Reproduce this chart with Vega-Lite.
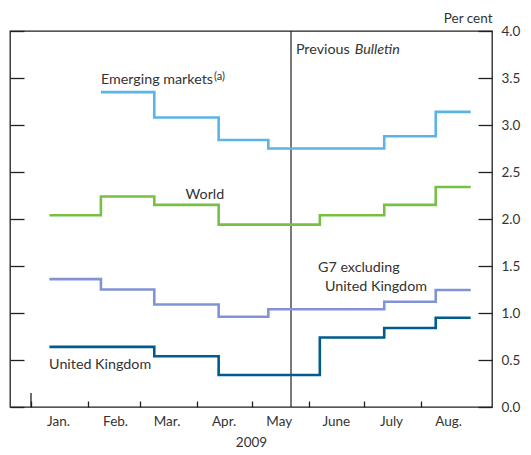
{
  "$schema": "https://vega.github.io/schema/vega-lite/v6.json",
  "width": 482,
  "height": 376,
  "autosize": "none",
  "padding": {"left": 10, "top": 31, "right": 39, "bottom": 48},
  "background": "white",
  "config": {
    "font": "Lato",
    "view": {"stroke": "#231f20", "strokeWidth": 1.3},
    "axis": {"labelFont": "Lato", "titleFont": "Lato", "labelFontSize": 13.5, "titleFontSize": 13.5, "labelColor": "#333333", "titleColor": "#333333", "titleFontWeight": "normal", "tickColor": "#231f20", "tickWidth": 1.3, "grid": false, "domain": false}
  },
  "datasets": {
    "lines": [
      {"series": "Emerging markets", "date": "2009-02-08", "value": 3.35},
      {"series": "Emerging markets", "date": "2009-03-09", "value": 3.08},
      {"series": "Emerging markets", "date": "2009-04-13", "value": 2.84},
      {"series": "Emerging markets", "date": "2009-05-10", "value": 2.75},
      {"series": "Emerging markets", "date": "2009-07-12", "value": 2.88},
      {"series": "Emerging markets", "date": "2009-08-09", "value": 3.14},
      {"series": "Emerging markets", "date": "2009-08-28", "value": 3.14},
      {"series": "World", "date": "2009-01-11", "value": 2.04},
      {"series": "World", "date": "2009-02-08", "value": 2.24},
      {"series": "World", "date": "2009-03-09", "value": 2.15},
      {"series": "World", "date": "2009-04-13", "value": 1.94},
      {"series": "World", "date": "2009-06-07", "value": 2.04},
      {"series": "World", "date": "2009-07-12", "value": 2.15},
      {"series": "World", "date": "2009-08-09", "value": 2.34},
      {"series": "World", "date": "2009-08-28", "value": 2.34},
      {"series": "G7 excluding United Kingdom", "date": "2009-01-11", "value": 1.36},
      {"series": "G7 excluding United Kingdom", "date": "2009-02-08", "value": 1.25},
      {"series": "G7 excluding United Kingdom", "date": "2009-03-09", "value": 1.09},
      {"series": "G7 excluding United Kingdom", "date": "2009-04-13", "value": 0.96},
      {"series": "G7 excluding United Kingdom", "date": "2009-05-10", "value": 1.04},
      {"series": "G7 excluding United Kingdom", "date": "2009-07-12", "value": 1.12},
      {"series": "G7 excluding United Kingdom", "date": "2009-08-09", "value": 1.245},
      {"series": "G7 excluding United Kingdom", "date": "2009-08-28", "value": 1.245},
      {"series": "United Kingdom", "date": "2009-01-11", "value": 0.64},
      {"series": "United Kingdom", "date": "2009-03-09", "value": 0.54},
      {"series": "United Kingdom", "date": "2009-04-13", "value": 0.34},
      {"series": "United Kingdom", "date": "2009-06-07", "value": 0.74},
      {"series": "United Kingdom", "date": "2009-07-12", "value": 0.84},
      {"series": "United Kingdom", "date": "2009-08-09", "value": 0.95},
      {"series": "United Kingdom", "date": "2009-08-28", "value": 0.95}
    ],
    "labels": [
      {"text": "Emerging markets", "date": "2009-02-08", "value": 3.436},
      {"text": "World", "date": "2009-03-26", "value": 2.213},
      {"text": "G7 excluding", "date": "2009-06-06", "value": 1.436},
      {"text": "United Kingdom", "date": "2009-06-09T18:00:00Z", "value": 1.234},
      {"text": "United Kingdom", "date": "2009-01-10T20:00:00Z", "value": 0.404},
      {"text": "Previous", "date": "2009-05-25", "value": 3.755}
    ],
    "italic": [
      {"text": "Bulletin", "date": "2009-06-26T00:00:00Z", "value": 3.755}
    ],
    "sup": [
      {"text": "(a)", "date": "2009-04-10T12:00:00Z", "value": 3.48}
    ],
    "events": [
      {"event": "Previous Bulletin", "date": "2009-05-22T08:00:00Z"}
    ],
    "year": [
      {"date": "2009-01-01"}
    ]
  },
  "layer": [
    {
      "data": {"name": "events"},
      "mark": {"type": "rule", "color": "#231f20", "strokeWidth": 1.2},
      "encoding": {
        "x": {"field": "date", "type": "temporal", "scale": {"type": "utc", "domain": [{"year": 2008, "month": 12, "date": 20, "hours": 14, "utc": true}, {"year": 2009, "month": 9, "date": 8, "hours": 14, "utc": true}]},
          "axis": {"orient": "bottom", "values": [
            {"year": 2009, "month": 1, "date": 1, "utc": true},
            {"year": 2009, "month": 2, "date": 1, "utc": true},
            {"year": 2009, "month": 3, "date": 1, "utc": true},
            {"year": 2009, "month": 4, "date": 1, "utc": true},
            {"year": 2009, "month": 5, "date": 1, "utc": true},
            {"year": 2009, "month": 6, "date": 1, "utc": true},
            {"year": 2009, "month": 7, "date": 1, "utc": true},
            {"year": 2009, "month": 8, "date": 1, "utc": true}],
            "labelExpr": "['Jan.','Feb.','Mar.','Apr.','May','June','July','Aug.'][utcmonth(datum.value)]",
            "labelOffset": 27, "labelFlush": false, "labelOverlap": false, "labelBound": false,
            "tickSize": -6, "labelPadding": 13, "labelBaseline": "top",
            "title": "2009", "titleY": 39, "titleBaseline": "alphabetic"}}
      }
    },
    {
      "data": {"name": "year"},
      "mark": {"type": "rule", "color": "#231f20", "strokeWidth": 1.3},
      "encoding": {
        "x": {"field": "date", "type": "temporal", "scale": {"type": "utc"}},
        "y": {"datum": 0, "type": "quantitative", "scale": {"domain": [0, 4]}, "axis": null},
        "y2": {"datum": 0.15}
      }
    },
    {
      "data": {"name": "lines"},
      "mark": {"type": "line", "interpolate": "step-after", "strokeWidth": 2.6},
      "encoding": {
        "x": {"field": "date", "type": "temporal", "scale": {"type": "utc"}},
        "y": {"field": "value", "type": "quantitative", "scale": {"domain": [0, 4]},
          "axis": {"orient": "right", "values": [0, 0.5, 1, 1.5, 2, 2.5, 3, 3.5, 4], "format": ".1f",
            "tickSize": -14, "labelPadding": 23, "labelAlign": "left",
            "title": "Per cent", "titleAngle": 0, "titleAlign": "right", "titleBaseline": "alphabetic", "titleX": 0, "titleY": -9}},
        "color": {"field": "series", "type": "nominal",
          "scale": {"domain": ["Emerging markets", "World", "G7 excluding United Kingdom", "United Kingdom"], "range": ["#5ab4e5", "#77c043", "#8193d3", "#005b8f"]},
          "legend": null}
      }
    },
    {
      "data": {"name": "labels"},
      "mark": {"type": "text", "align": "left", "baseline": "alphabetic", "fontSize": 14.3, "color": "#333333"},
      "encoding": {
        "x": {"field": "date", "type": "temporal", "scale": {"type": "utc"}},
        "y": {"field": "value", "type": "quantitative", "scale": {"domain": [0, 4]},
          "axis": {"orient": "left", "values": [0, 0.5, 1, 1.5, 2, 2.5, 3, 3.5, 4], "labels": false, "tickSize": -14, "title": null}},
        "text": {"field": "text"}
      }
    },
    {
      "data": {"name": "italic"},
      "mark": {"type": "text", "align": "left", "baseline": "alphabetic", "fontSize": 14.3, "fontStyle": "italic", "color": "#333333"},
      "encoding": {
        "x": {"field": "date", "type": "temporal", "scale": {"type": "utc"}},
        "y": {"field": "value", "type": "quantitative", "scale": {"domain": [0, 4]}, "axis": null},
        "text": {"field": "text"}
      }
    },
    {
      "data": {"name": "sup"},
      "mark": {"type": "text", "align": "left", "baseline": "alphabetic", "fontSize": 11, "color": "#333333"},
      "encoding": {
        "x": {"field": "date", "type": "temporal", "scale": {"type": "utc"}},
        "y": {"field": "value", "type": "quantitative", "scale": {"domain": [0, 4]}, "axis": null},
        "text": {"field": "text"}
      }
    }
  ],
  "resolve": {"axis": {"y": "independent"}}
}
